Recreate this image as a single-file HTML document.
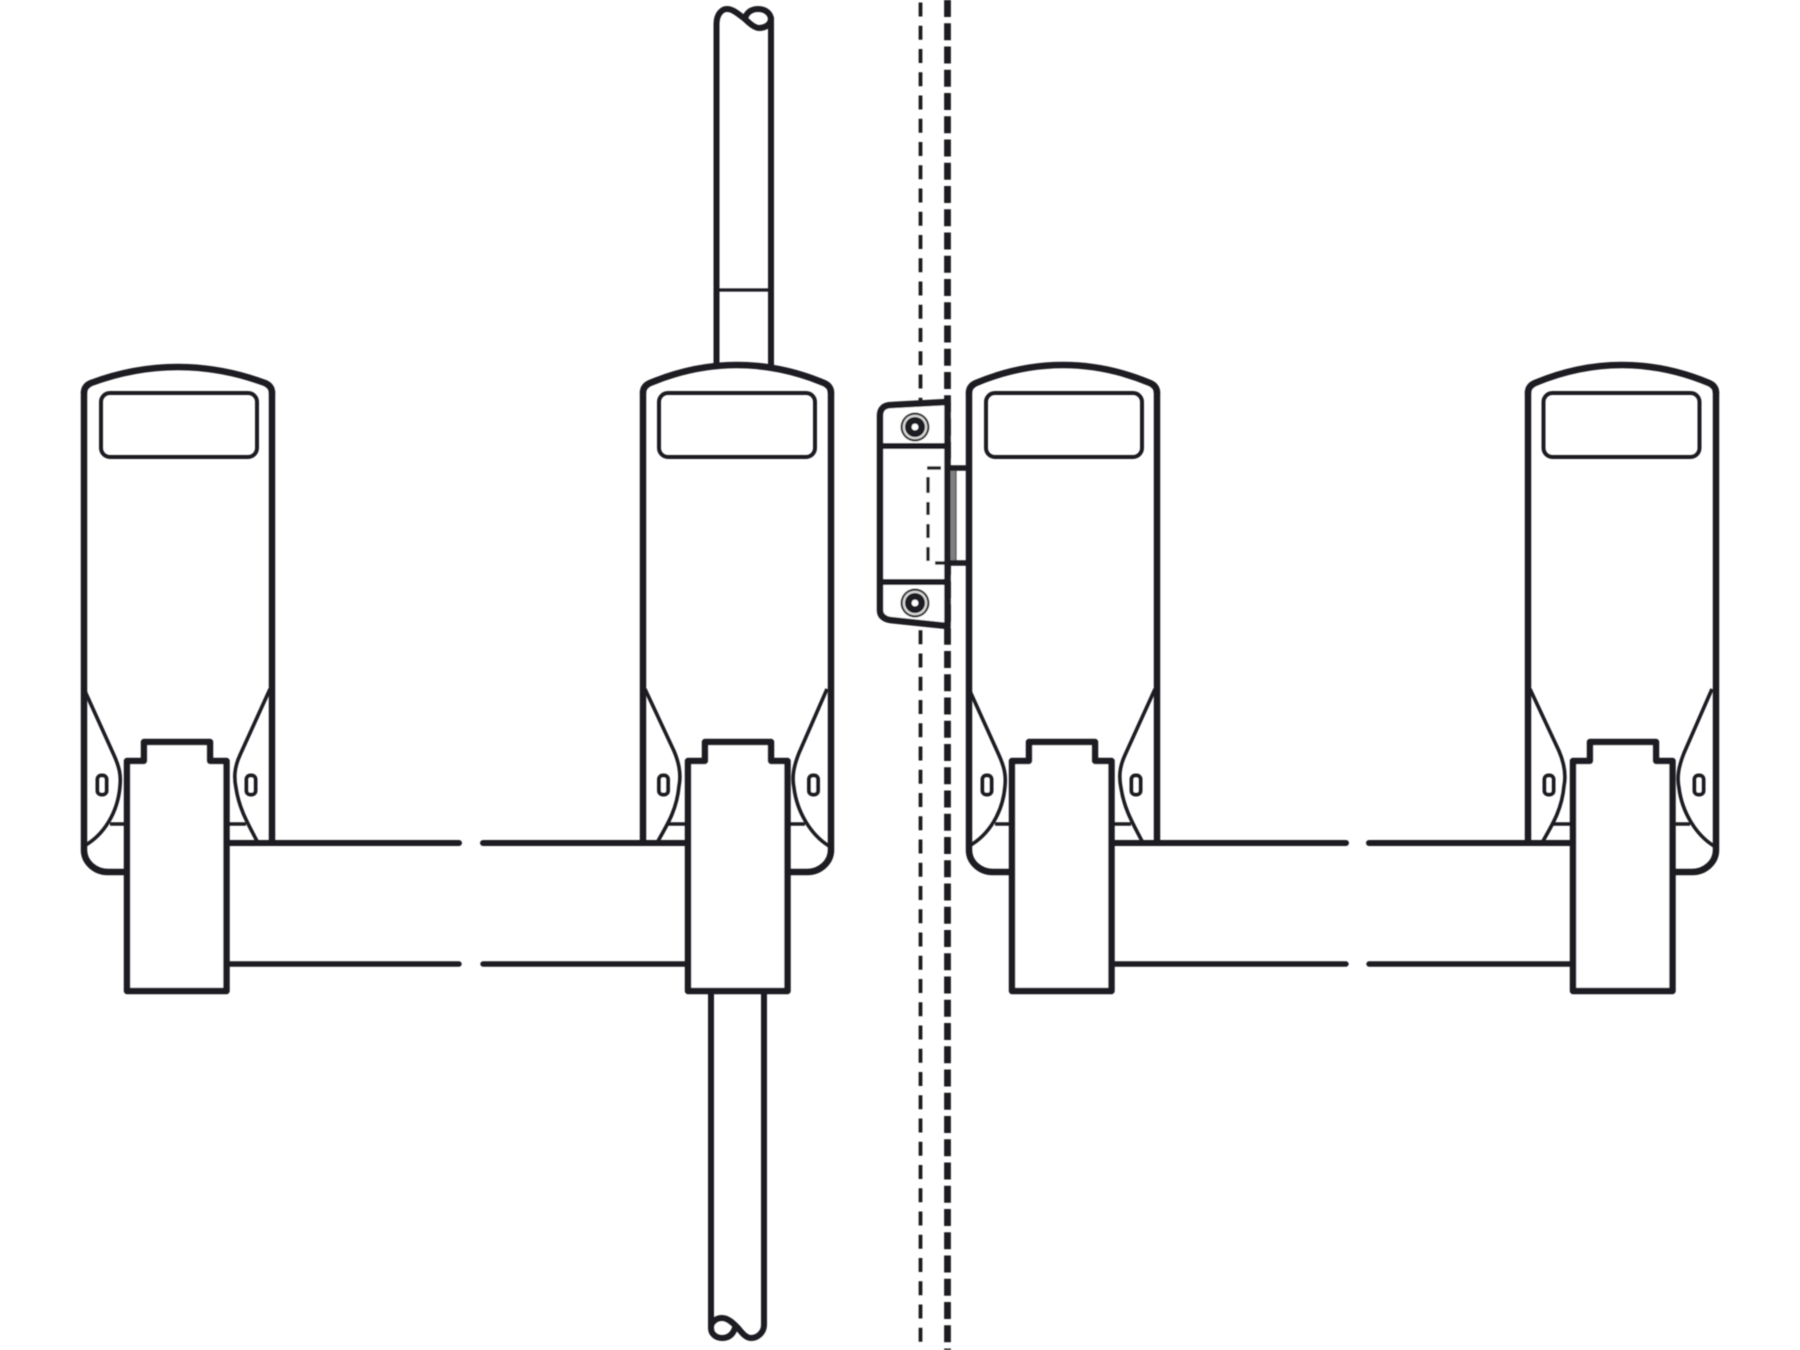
<!DOCTYPE html>
<html>
<head>
<meta charset="utf-8">
<style>
html,body{margin:0;padding:0;background:#fff;}
svg{display:block;}
</style>
</head>
<body>
<svg width="1800" height="1350" viewBox="0 0 1800 1350" xmlns="http://www.w3.org/2000/svg">
<defs>
<filter id="soft" filterUnits="userSpaceOnUse" x="0" y="0" width="1800" height="1350"><feGaussianBlur stdDeviation="0.5"/></filter>
<g id="common" fill="none" stroke="#1f1f21" stroke-linejoin="round">
  <rect x="17" y="393" width="156" height="64" rx="9" ry="9" stroke-width="4"/>
</g>
<g id="zero" fill="#fff" stroke="#1f1f21" stroke-width="4">
  <rect x="-4.5" y="-9.5" width="9" height="19" rx="3.8" ry="3.8"/>
</g>
<g id="panelA" fill="none" stroke="#1f1f21" stroke-linejoin="round">
  <path d="M0,392 V850 A24,22 0 0 0 24,872 H43" stroke-width="6.5"/>
  <path d="M188,392 V843" stroke-width="6.5"/>
  <path d="M0,689 L29,753 C36,768 37,776 36,786 C34,812 20,835 0,846" stroke-width="3.6"/>
  <path d="M186,689 L156,755 C150,768 150,778 152,788 C155,808 163,822 173,841" stroke-width="3.6"/>
  <path d="M26,824 H44 M142,824 H162" stroke-width="3.4"/>
</g>
<g id="panelB" fill="none" stroke="#1f1f21" stroke-linejoin="round">
  <path d="M188,392 V850 A24,22 0 0 1 164,872 H144" stroke-width="6.5"/>
  <path d="M0,392 V843" stroke-width="6.5"/>
  <path d="M2,689 L31,751 C37,765 38,776 36,786 C34,808 26,822 15,841" stroke-width="3.6"/>
  <path d="M184,689 L156,753 C150,768 149,778 151,788 C154,812 168,835 186,846" stroke-width="3.6"/>
  <path d="M25,824 H44 M144,824 H162" stroke-width="3.4"/>
</g>
<g id="box">
  <path d="M0,19 H17 V0 H83 V19 H99.5 V249 H0 Z" fill="#fff" stroke="#1f1f21" stroke-width="6.5" stroke-linejoin="round"/>
</g>
<g id="screw">
  <circle r="14.5" fill="#333"/>
  <circle r="12.3" fill="#d8d8d8"/>
  <circle r="10" fill="#1f1f21"/>
  <circle r="3.4" fill="#fff"/>
</g>
</defs>

<rect width="1800" height="1350" fill="#fff"/>
<g filter="url(#soft)">

<!-- door edge dashed lines -->
<line x1="920.5" y1="0" x2="920.5" y2="1350" stroke="#1f1f21" stroke-width="3.8" stroke-dasharray="14 9.25" stroke-dashoffset="-2.5"/>
<line x1="947.5" y1="0" x2="947.5" y2="1350" stroke="#1f1f21" stroke-width="6.8" stroke-dasharray="17 6.25" stroke-dashoffset="0"/>

<!-- upper rod -->
<g fill="none" stroke="#1f1f21" stroke-width="6" stroke-linejoin="round" stroke-linecap="round">
  <path d="M716.5,366 V24 C716.5,14 722,9 727,9 C733,9 738,14 745,19 C750,24 755,28 759,28 C766,28 771,24 771,18 V366"/>
  <path d="M771,20 C771,13 765,9 758,9 C751,9 746,13 745,19"/>
  <path d="M717,290 H771" stroke-width="3.2"/>
</g>

<!-- lower rod -->
<g fill="none" stroke="#1f1f21" stroke-width="6" stroke-linejoin="round" stroke-linecap="round">
  <path d="M711,990 V1328 C711,1334 716,1338 722,1338 C729,1338 733,1334 735,1328"/>
  <path d="M711,1326 C712,1321 717,1318 722,1318 C728,1318 733,1323 738,1328 C742,1333 746,1338 751,1338 C758,1338 764,1332 764,1325 V990"/>
</g>

<!-- panel 1 -->
<g transform="translate(84,0)">
  <use href="#panelA"/><use href="#common"/>
  <path d="M0,393 Q0,386 7,383 Q50,367 94,367 Q138,367 181,383 Q188,386 188,393" fill="none" stroke="#1f1f21" stroke-width="6.5"/>
  <use href="#zero" x="18" y="785"/><use href="#zero" x="167" y="785"/>
</g>
<!-- panel 2 -->
<g transform="translate(643,0)">
  <use href="#panelB"/><use href="#common" x="-1"/>
  <path d="M0,393 Q0,386 7,383 Q50,365 94,365 Q138,365 181,383 Q188,386 188,393" fill="none" stroke="#1f1f21" stroke-width="6.5"/>
  <use href="#zero" x="20.5" y="785"/><use href="#zero" x="170.5" y="785"/>
</g>
<!-- panel 3 -->
<g transform="translate(969,0)">
  <use href="#panelA"/><use href="#common"/>
  <path d="M0,393 Q0,386 7,383 Q50,365 94,365 Q138,365 181,383 Q188,386 188,393" fill="none" stroke="#1f1f21" stroke-width="6.5"/>
  <use href="#zero" x="18" y="785"/><use href="#zero" x="167" y="785"/>
</g>
<!-- panel 4 -->
<g transform="translate(1528,0)">
  <use href="#panelB"/><use href="#common" x="-1.5"/>
  <path d="M0,393 Q0,386 7,383 Q50,365 94,365 Q138,365 181,383 Q188,386 188,393" fill="none" stroke="#1f1f21" stroke-width="6.5"/>
  <use href="#zero" x="21" y="785"/><use href="#zero" x="171" y="785"/>
</g>

<!-- bars -->
<g stroke="#1f1f21" stroke-width="6" stroke-linecap="round" fill="none">
  <path d="M226,843 H459 M483,843 H688"/>
  <path d="M226,964 H459 M483,964 H688" stroke-width="5.4"/>
  <path d="M1112,843 H1346 M1369,843 H1573"/>
  <path d="M1112,964 H1346 M1369,964 H1573" stroke-width="5.4"/>
</g>

<!-- boxes -->
<use href="#box" x="127" y="742"/>
<use href="#box" x="688" y="742"/>
<use href="#box" x="1012" y="742"/>
<use href="#box" x="1573" y="742"/>

<!-- strike -->
<path d="M947.5,402 L892,405 Q880,405 880,416 V610 Q880,618 890,620 L947.5,626 Z" fill="#fff" stroke="#1f1f21" stroke-width="6.5" stroke-linejoin="round"/>
<path d="M880,446 H947 M880,582 H947" stroke="#1f1f21" stroke-width="6"/>
<rect x="950.5" y="470" width="5" height="91" fill="#808080"/>
<path d="M956,470 V561" stroke="#555" stroke-width="1.2"/>
<path d="M947,468 H970 M947,563 H970" stroke="#1f1f21" stroke-width="5.4"/>
<g stroke="#1f1f21" stroke-width="3.4" fill="none">
  <path d="M927,468 H941"/>
  <path d="M928,477 V493 M928,502 V515 M928,524 V538 M928,547 V561"/>
  <path d="M935,563 H948"/>
</g>
<use href="#screw" x="915" y="427"/>
<use href="#screw" x="915" y="603"/>

</g>
</svg>
</body>
</html>
